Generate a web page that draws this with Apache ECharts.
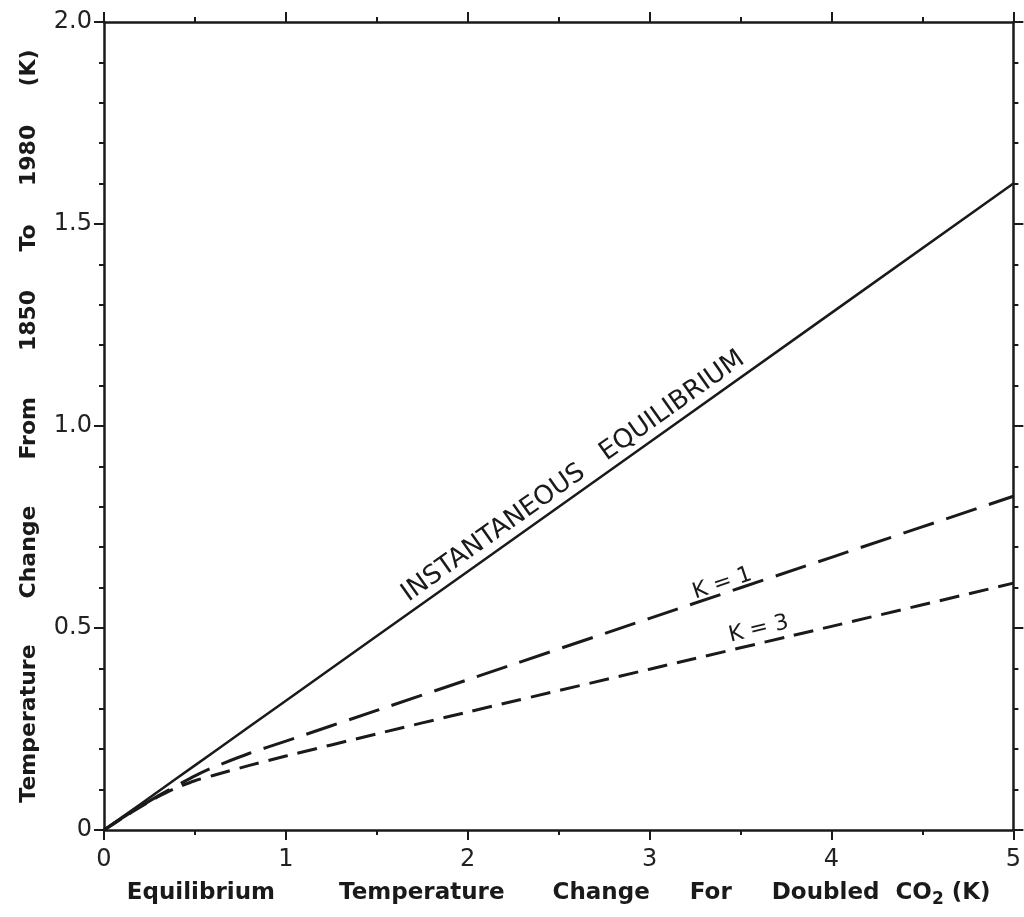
<!DOCTYPE html>
<html>
<head>
<meta charset="utf-8">
<script src="https://cdn.jsdelivr.net/npm/echarts@6/dist/echarts.min.js"></script>
<style>
  html, body { margin: 0; padding: 0; background: #fff; }
  #chart { width: 1024px; height: 917px; }
</style>
</head>
<body>
<div id="chart"></div>
<script>
// equilibrium sensitivity (K) vs warming 1850-1980 (K)
var eqT = [0, 0.1, 0.2, 0.3, 0.4, 0.5, 0.6, 0.8, 1, 1.5, 2, 3, 4, 5];
var instY = [0, 0.032, 0.064, 0.096, 0.128, 0.16, 0.192, 0.256, 0.32, 0.48, 0.64, 0.96, 1.28, 1.6];
var k1Y = [0, 0.03, 0.058, 0.085, 0.11, 0.134, 0.155, 0.19, 0.22, 0.296, 0.372, 0.524, 0.675, 0.826];
var k3Y = [0, 0.029, 0.057, 0.083, 0.105, 0.122, 0.135, 0.16, 0.183, 0.238, 0.292, 0.398, 0.504, 0.611];

var xTicks = ['0', '1', '2', '3', '4', '5'];
var yTicks = {0: '0', 0.5: '0.5', 1: '1.0', 1.5: '1.5', 2: '2.0'};

function pairs(xs, ys) {
    return xs.map(function (x, i) { return [x, ys[i]]; });
}

var font = 'DejaVu Sans';
var ink = '#1a1a1a';

var chart = echarts.init(document.getElementById('chart'));

function axisBase(pos) {
    return {
        type: 'value',
        position: pos,
        axisLine: { show: true, onZero: false, lineStyle: { color: ink, width: 2.5 } },
        axisTick: { show: true, inside: false, length: 10, lineStyle: { color: ink, width: 2 } },
        minorTick: { show: true, length: 5, lineStyle: { color: ink, width: 2 } },
        splitLine: { show: false },
        minorSplitLine: { show: false }
    };
}

var xBottom = Object.assign(axisBase('bottom'), {
    min: 0, max: 5, interval: 1,
    name: '{t|Equilibrium        Temperature      Change     For     Doubled  CO}{s|2}{t| (K)}',
    nameLocation: 'middle',
    nameGap: 49,
    nameTextStyle: {
        rich: {
            t: { fontFamily: font, fontWeight: 'bold', fontSize: 23, color: ink },
            s: { fontFamily: font, fontWeight: 'bold', fontSize: 17, color: ink, padding: [12, 0, 0, 0] }
        }
    },
    axisLabel: {
        fontFamily: font, fontSize: 24, color: '#222', margin: 18,
        formatter: function (v) { return xTicks[v]; }
    }
});
xBottom.minorTick.splitNumber = 2;

var xTop = Object.assign(axisBase('top'), { min: 0, max: 5, interval: 1, axisLabel: { show: false } });
xTop.minorTick.splitNumber = 2;

var yLeft = Object.assign(axisBase('left'), {
    min: 0, max: 2, interval: 0.5,
    name: 'Temperature      Change      From      1850     To     1980     (K)',
    nameLocation: 'middle',
    nameRotate: 90,
    nameGap: 64,
    nameTextStyle: { fontFamily: font, fontWeight: 'bold', fontSize: 22, color: ink },
    axisLabel: {
        fontFamily: font, fontSize: 24, color: '#222', margin: 12,
        formatter: function (v) { return yTicks[v]; }
    }
});
yLeft.minorTick.splitNumber = 5;

var yRight = Object.assign(axisBase('right'), { min: 0, max: 2, interval: 0.5, axisLabel: { show: false } });
yRight.minorTick.splitNumber = 5;

var option = {
    backgroundColor: '#fff',
    animation: false,
    grid: { left: 104, top: 22, width: 911, height: 808 },
    xAxis: [xBottom, xTop],
    yAxis: [yLeft, yRight],
    series: [
        {
            name: 'instantaneous',
            type: 'line',
            showSymbol: false,
            data: pairs(eqT, instY),
            lineStyle: { color: ink, width: 2.5 }
        },
        {
            name: 'K=1',
            type: 'line',
            showSymbol: false,
            smooth: 0.2,
            data: pairs(eqT, k1Y),
            lineStyle: { color: ink, width: 3, type: [32, 13] }
        },
        {
            name: 'K=3',
            type: 'line',
            showSymbol: false,
            smooth: 0.2,
            data: pairs(eqT, k3Y),
            lineStyle: { color: ink, width: 3, type: [20, 10] }
        }
    ]
};
chart.setOption(option);

// line labels, rotated along their curve
function toPx(p) {
    return chart.convertToPixel({ xAxisIndex: 0, yAxisIndex: 0 }, p);
}
function angleOf(ys, i, j) {
    var a = toPx([eqT[i], ys[i]]), b = toPx([eqT[j], ys[j]]);
    return Math.atan2(a[1] - b[1], b[0] - a[0]);
}
function lineLabel(text, at, rot, size) {
    var p = toPx(at);
    return {
        type: 'text',
        x: p[0], y: p[1],
        rotation: rot,
        style: {
            text: text,
            fontFamily: font,
            fontSize: size,
            fill: ink,
            align: 'center',
            verticalAlign: 'middle'
        }
    };
}

chart.setOption({
    graphic: [
        lineLabel('INSTANTANEOUS   EQUILIBRIUM', [2.58, 0.875], angleOf(instY, 10, 12), 26),
        lineLabel('K = 1', [3.4, 0.61], angleOf(k1Y, 11, 13), 22),
        lineLabel('K = 3', [3.6, 0.497], angleOf(k3Y, 11, 13), 22)
    ]
});
</script>
</body>
</html>
